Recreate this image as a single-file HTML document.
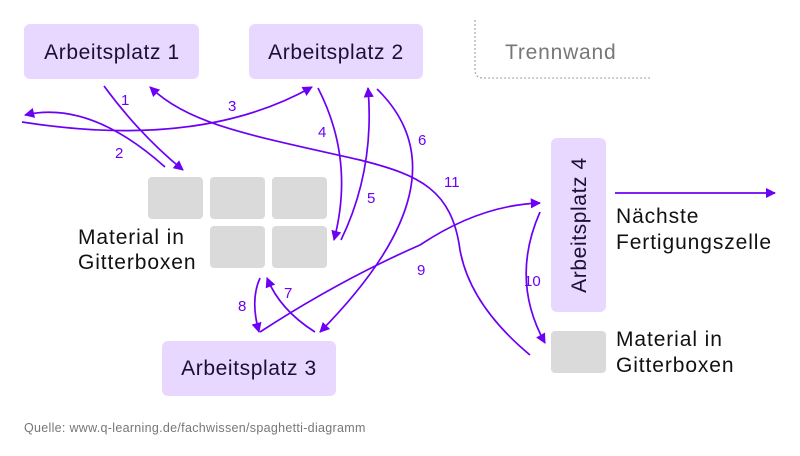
<!DOCTYPE html>
<html><head><meta charset="utf-8"><style>
body{margin:0;background:#fff}
svg{display:block;font-family:"Liberation Sans",sans-serif}
</style></head><body>
<svg width="800" height="456" viewBox="0 0 800 456">
<defs><marker id="a" viewBox="0 0 10 10" refX="9" refY="5" markerWidth="6" markerHeight="6" orient="auto"><path d="M0,0L10,5L0,10z" fill="#6c00f5"/></marker></defs>
<g fill="#e8d7ff">
<rect x="24" y="24" width="175" height="55" rx="6"/>
<rect x="249" y="24" width="174" height="55" rx="6"/>
<rect x="162" y="341" width="174" height="55" rx="6"/>
<rect x="551" y="138" width="55" height="174" rx="6"/>
</g>
<g fill="#dadada">
<rect x="148" y="177" width="55" height="42" rx="4"/>
<rect x="210" y="177" width="55" height="42" rx="4"/>
<rect x="272" y="177" width="55" height="42" rx="4"/>
<rect x="210" y="226" width="55" height="42" rx="4"/>
<rect x="272" y="226" width="55" height="42" rx="4"/>
<rect x="551" y="331" width="55" height="42" rx="4"/>
</g>
<path d="M475,20V70Q475,78 483,78H650" fill="none" stroke="#999" stroke-dasharray="2,2"/>
<g fill="#1a1030" font-size="21" letter-spacing="0.6">
<text x="112" y="59" text-anchor="middle">Arbeitsplatz 1</text>
<text x="336" y="59" text-anchor="middle">Arbeitsplatz 2</text>
<text x="249" y="375" text-anchor="middle">Arbeitsplatz 3</text>
<text transform="translate(586,225) rotate(-90)" text-anchor="middle">Arbeitsplatz 4</text>
</g>
<text x="505" y="59" font-size="21" letter-spacing="0.8" fill="#777">Trennwand</text>
<g fill="#111" font-size="21" letter-spacing="0.9">
<text x="78" y="244">Material in</text><text x="78" y="269">Gitterboxen</text>
<text x="616" y="346">Material in</text><text x="616" y="372">Gitterboxen</text>
<text x="616" y="223">Nächste</text><text x="616" y="249">Fertigungszelle</text>
</g>
<g fill="none" stroke="#6c00f5" stroke-width="1.7" marker-end="url(#a)">
<path d="M615,193H775"/>
<path d="M104,86Q140,135 183,170"/>
<path d="M165,167Q90,100 25,115"/>
<path d="M22,122Q200,150 312,87"/>
<path d="M318,88Q355,160 334,240"/>
<path d="M341,240Q375,170 368,88"/>
<path d="M377,89Q470,180 320,332"/>
<path d="M530,355Q470,305 460,250C452,190 420,175 360,160C250,135 190,125 150,87"/>
<path d="M260,332Q340,280 420,245Q480,205 540,203"/>
<path d="M540,212Q510,280 545,343"/>
<path d="M260,278Q250,300 259,332"/>
<path d="M315,332Q280,310 267,278"/>
</g>
<g fill="#6c00f5" font-size="15">
<text x="121" y="105">1</text><text x="115" y="158">2</text><text x="228" y="111">3</text>
<text x="318" y="137">4</text><text x="367" y="203">5</text><text x="418" y="145">6</text>
<text x="444" y="187">11</text><text x="417" y="275">9</text><text x="524" y="286">10</text>
<text x="238" y="311">8</text><text x="284" y="298">7</text>
</g>
<text x="24" y="432" font-size="12.5" letter-spacing="0.3" fill="#777">Quelle: www.q-learning.de/fachwissen/spaghetti-diagramm</text>
</svg>
</body></html>
